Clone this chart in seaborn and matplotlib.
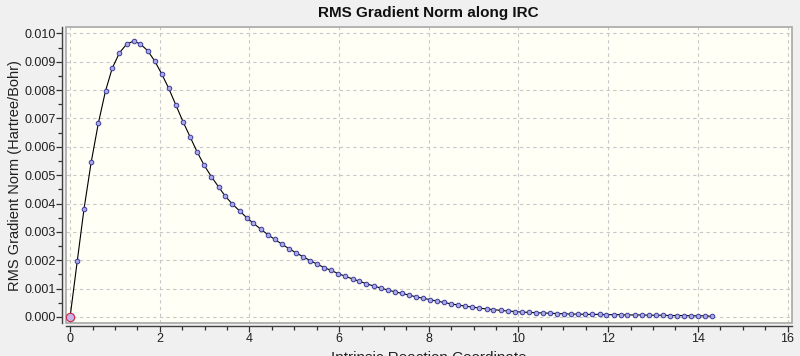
import numpy as np
import pandas as pd
import matplotlib
matplotlib.use("Agg")
import matplotlib.pyplot as plt
import matplotlib.ticker as mticker
from matplotlib.patches import Rectangle
import seaborn as sns

# --- Data ---
irc_coord = [0.00, 0.16, 0.31, 0.47, 0.63, 0.79, 0.94, 1.10, 1.26, 1.42,
             1.57, 1.73, 1.89, 2.05, 2.20, 2.36, 2.52, 2.68, 2.83, 2.99,
             3.15, 3.31, 3.46, 3.62, 3.78, 3.94, 4.09, 4.25, 4.41, 4.56,
             4.72, 4.88, 5.04, 5.19, 5.35, 5.51, 5.67, 5.82, 5.98, 6.14,
             6.30, 6.45, 6.61, 6.77, 6.93, 7.08, 7.24, 7.40, 7.56, 7.71,
             7.87, 8.03, 8.18, 8.34, 8.50, 8.66, 8.81, 8.97, 9.13, 9.29,
             9.44, 9.60, 9.76, 9.92, 10.07, 10.23, 10.39, 10.55, 10.70, 10.86,
             11.02, 11.18, 11.33, 11.49, 11.65, 11.81, 11.96, 12.12, 12.28, 12.43,
             12.59, 12.75, 12.91, 13.06, 13.22, 13.38, 13.54, 13.69, 13.85, 14.01,
             14.17, 14.32]

rms_grad = [0.00000, 0.00197, 0.00380, 0.00545, 0.00683, 0.00797, 0.00877, 0.00931, 0.00962, 0.00973,
            0.00962, 0.00939, 0.00902, 0.00855, 0.00806, 0.00747, 0.00688, 0.00634, 0.00583, 0.00535,
            0.00495, 0.00459, 0.00426, 0.00398, 0.00374, 0.00350, 0.00330, 0.00310, 0.00290, 0.00274,
            0.00257, 0.00241, 0.00226, 0.00213, 0.00199, 0.00186, 0.00174, 0.00164, 0.00153, 0.00143,
            0.00134, 0.00126, 0.00117, 0.00109, 0.00102, 0.00095, 0.00089, 0.00083, 0.00077, 0.00071,
            0.00066, 0.00061, 0.00056, 0.00051, 0.00046, 0.00042, 0.00038, 0.00035, 0.00031, 0.00028,
            0.00026, 0.00023, 0.00021, 0.00019, 0.00017, 0.00016, 0.00015, 0.00014, 0.00013, 0.00012,
            0.00011, 0.00010, 0.00010, 0.00009, 0.00009, 0.00009, 0.00008, 0.00008, 0.00008, 0.00007,
            0.00007, 0.00007, 0.00006, 0.00006, 0.00006, 0.00005, 0.00005, 0.00005, 0.00004, 0.00004,
            0.00004, 0.00002]

df = pd.DataFrame({"irc": irc_coord, "grad": rms_grad})

# --- Style ---
sns.set_style("white")
plt.rcParams["font.family"] = ["Liberation Sans", "DejaVu Sans"]

fig = plt.figure(figsize=(8, 3.56), dpi=100)
fig.patch.set_facecolor("#f0f0f0")
ax = fig.add_axes([0.082, 0.093, 0.908, 0.830])
ax.set_facecolor("#fffff6")

sns.lineplot(data=df, x="irc", y="grad", ax=ax, color="black", linewidth=0.8,
             marker="o", markersize=3.3, markerfacecolor="#aaaae6",
             markeredgecolor="#3c3c9c", markeredgewidth=0.7, sort=False)

# highlighted current point
ax.plot(df["irc"].iloc[0], df["grad"].iloc[0], "o", markersize=6,
        markerfacecolor="#c8b4e6", markeredgecolor="#c83250",
        markeredgewidth=0.9, zorder=5)

# --- Axes ---
ax.set_xlim(-0.1, 16.1)
ax.set_ylim(-0.00021, 0.01021)
ax.xaxis.set_major_locator(mticker.MultipleLocator(2))
ax.xaxis.set_minor_locator(mticker.MultipleLocator(0.5))
ax.yaxis.set_major_locator(mticker.MultipleLocator(0.001))
ax.yaxis.set_minor_locator(mticker.MultipleLocator(0.0005))
ax.yaxis.set_major_formatter(mticker.FormatStrFormatter("%.3f"))

ax.tick_params(axis="both", which="major", direction="out", length=4, width=0.9,
               color="#303030", labelsize=9, labelcolor="#202020", pad=0.8)
ax.tick_params(axis="both", which="minor", direction="out", length=2.8, width=0.9,
               color="#303030")
ax.tick_params(axis="x", which="both", bottom=True)
ax.tick_params(axis="y", which="both", left=True)

ax.grid(True, which="major", color="#c8c8c8", linestyle=(0, (3, 3)), linewidth=0.8)

for side in ["top", "right"]:
    ax.spines[side].set_visible(False)
for side in ["left", "bottom"]:
    ax.spines[side].set_position(("outward", 2.5))
    ax.spines[side].set_color("#404040")
    ax.spines[side].set_linewidth(1.0)

# plot area frame
ax.add_patch(Rectangle((0, 0), 1, 1, transform=ax.transAxes, fill=False,
                       edgecolor="#a8a8a8", linewidth=1.2, clip_on=False, zorder=4))

ax.set_xlabel("Intrinsic Reaction Coordinate", fontsize=11, color="#202020")
ax.xaxis.set_label_coords(0.5, -0.094)
ax.set_ylabel("RMS Gradient Norm (Hartree/Bohr)", fontsize=10.5, color="#202020")
ax.yaxis.set_label_coords(-0.060, 0.5)

fig.text(428 / 800, 1 - 12.5 / 356, "RMS Gradient Norm along IRC",
         fontsize=11, fontweight="bold", ha="center", va="center", color="#101010")

plt.savefig("out.png", dpi=100, facecolor=fig.get_facecolor())
plt.close()
